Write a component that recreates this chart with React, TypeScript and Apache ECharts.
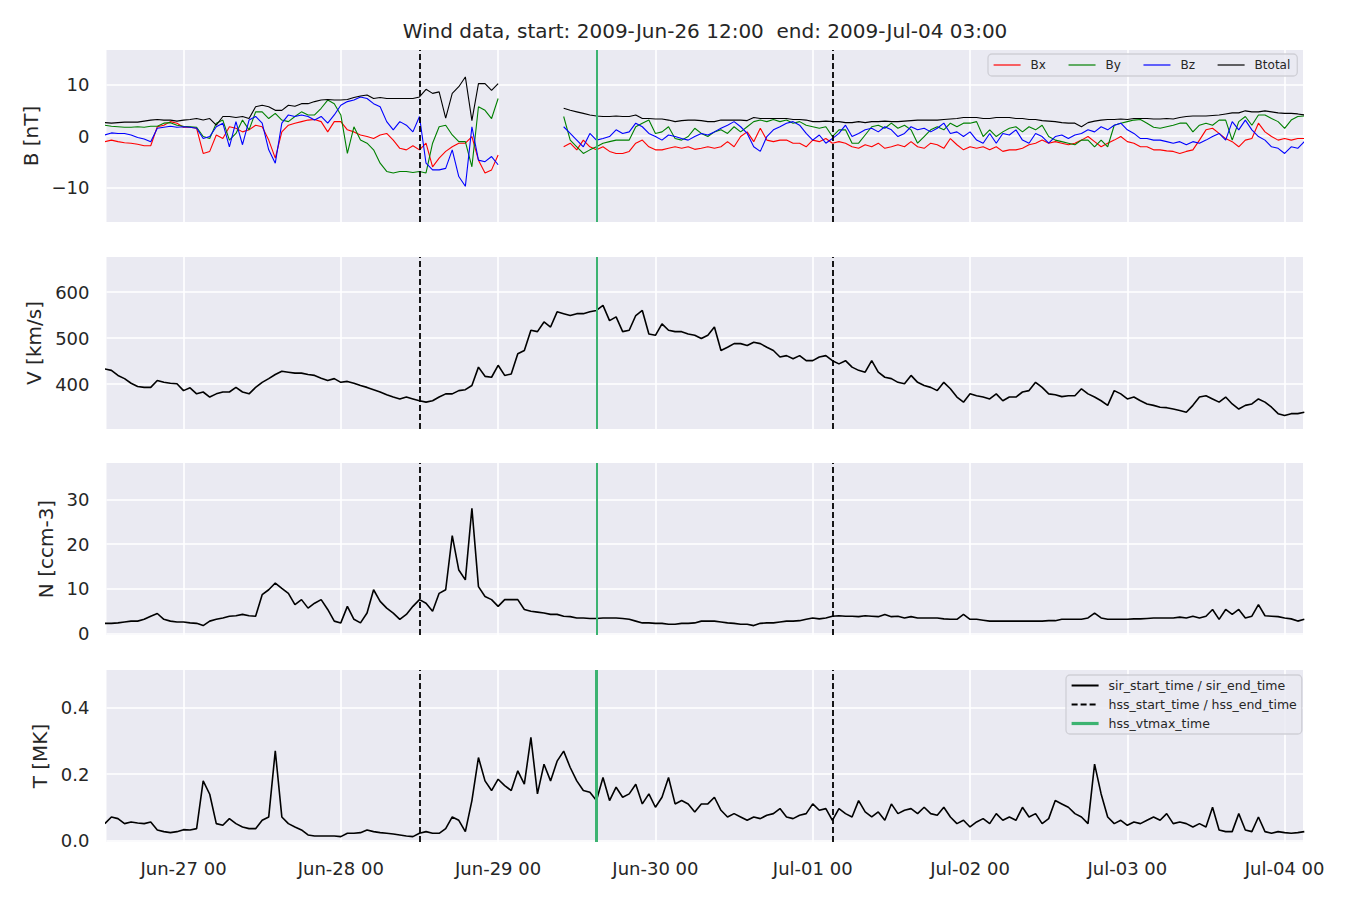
import React, { useEffect, useRef } from "react";
import * as echarts from "echarts";

const TITLE = "Wind data, start: 2009-Jun-26 12:00  end: 2009-Jul-04 03:00";
// every series holds one value per hour, hour 0 = 2009-06-26 12:00
const X_RANGE = [0.25, 182.8];
const DAY_TICKS = [12, 36, 60, 84, 108, 132, 156, 180];
const DAY_LABELS = ["Jun-27 00", "Jun-28 00", "Jun-29 00", "Jun-30 00", "Jul-01 00", "Jul-02 00", "Jul-03 00", "Jul-04 00"];
const HSS_LINES = [48, 111];
const VTMAX_LINES = [75];

const B_TICKS = [-10, 0, 10];
const V_TICKS = [400, 500, 600];
const N_TICKS = [0, 10, 20, 30];
const T_TICKS = [0, 0.2, 0.4];

const BX = [
  -1.1, -0.8, -1.1, -1.3, -1.4, -1.6, -1.9, -1.9, 1.8, 2.1,
  2.8, 2.5, 1.7, 1.7, 1.5, -3.4, -3.0, 0.2, -0.5, 1.8,
  1.5, 0.8, 1.2, 2.1, 1.8, -0.8, -4.3, 0.8, 2.1, 2.5,
  2.8, 3.1, 3.2, 2.8, 0.8, 2.8, 2.8, 1.2, 0.8, 0.2,
  -0.1, -0.5, 0.2, 0.5, -0.8, -2.4, -2.7, -1.9, -2.7, -1.4,
  -6.0, -4.3, -3.0, -2.1, -1.4, -1.4, -0.1, -4.7, -7.2, -6.6,
  -3.7, null, null, null, null, null, null, null, null, null,
  -2.1, -1.4, -2.7, -0.8, -2.1, -2.7, -2.1, -3.0, -3.4, -3.4,
  -3.0, -1.4, -0.8, -2.1, -2.7, -2.7, -2.4, -2.1, -2.4, -2.1,
  -2.6, -2.4, -2.1, -2.4, -2.1, -1.1, -2.1, -0.1, 0.8, -1.1,
  1.5, -0.8, -1.1, -0.8, -0.8, -1.4, -1.4, -2.1, -0.8, -1.1,
  -0.5, -1.4, -1.1, -1.4, -2.1, -2.4, -1.7, -2.1, -1.4, -2.4,
  -2.1, -1.7, -2.1, -1.1, -2.1, -2.4, -1.4, -1.7, -2.4, -0.5,
  -1.7, -2.7, -2.1, -2.4, -2.1, -2.7, -2.1, -3.0, -2.7, -2.7,
  -2.4, -1.7, -1.4, -0.8, -1.4, -1.1, -1.4, -1.7, -1.4, -0.8,
  -0.1, -1.1, -2.1, -1.4, -0.8, -0.1, -1.1, -1.4, -2.1, -2.1,
  -2.7, -2.7, -2.9, -3.0, -3.4, -3.0, -2.7, -0.8, 1.2, 1.5,
  0.5, -0.5, -1.1, -2.1, -0.8, -0.5, 2.5, 0.8, -0.1, -0.8,
  -0.5, -0.8, -0.5, -0.5,
];

const BY = [
  2.1, 1.9, 1.8, 1.7, 1.7, 1.8, 1.7, 1.9, 1.9, 2.5,
  2.6, 2.1, 1.9, 1.8, 1.7, -0.1, -0.5, 2.5, 3.1, -0.8,
  0.5, 3.1, 1.2, 4.7, 4.7, 3.4, 4.4, 3.1, 2.8, 3.8,
  4.7, 4.1, 4.1, 5.4, 7.0, 6.3, 4.1, -3.4, 1.8, -0.8,
  -1.4, -2.7, -5.3, -6.9, -7.2, -6.9, -6.9, -7.1, -6.9, -7.2,
  -1.4, 1.8, 2.1, 0.2, -1.1, -1.1, -6.0, 5.7, 5.0, 3.4,
  7.3, null, null, null, null, null, null, null, null, null,
  3.8, -0.8, -2.1, -3.4, -2.7, -2.1, -1.4, -1.1, -0.8, -0.8,
  -0.8, 1.8, 2.5, 3.1, 0.5, 0.8, 1.8, -0.5, -0.8, -0.1,
  1.5, 0.5, -0.1, 0.8, 1.2, 0.5, 1.8, 0.8, 1.8, 2.8,
  3.1, 2.8, 3.2, 2.8, 3.1, 2.5, 2.8, 2.1, 1.8, 1.5,
  1.8, -0.1, 1.2, 1.2, -1.4, -1.4, 0.2, 1.8, 2.1, 1.5,
  2.5, 1.5, 2.1, 1.2, -1.4, -0.1, 1.2, 1.8, 1.2, 2.5,
  1.8, 2.5, 2.5, 2.8, -0.1, 1.2, -0.1, 0.8, 1.5, 1.8,
  0.8, 1.8, 1.2, 2.1, -0.1, -0.8, -1.1, -1.4, -1.7, -0.8,
  -0.8, -2.1, -0.8, -2.1, 2.1, 2.5, 2.8, 3.1, 3.2, 2.5,
  1.7, 1.5, 1.8, 2.1, 2.5, 2.5, 0.8, 2.1, 2.5, 2.1,
  3.1, 3.1, -0.8, 2.8, 3.8, 2.1, 4.1, 4.1, 3.4, 2.8,
  1.5, 3.1, 3.8, 3.9,
];

const BZ = [
  0.2, 0.6, 0.5, 0.5, 0.2, -0.3, -0.6, -1.1, 1.5, 1.7,
  1.9, 1.7, 1.8, 1.7, 1.5, -0.5, -0.1, 1.8, 2.5, -2.1,
  2.8, -1.7, 3.1, 3.8, 2.5, -2.7, -5.3, 2.5, 4.1, 3.8,
  4.1, 3.8, 3.1, 3.8, 2.5, 4.1, 6.0, 6.7, 7.0, 7.6,
  7.3, 6.3, 5.7, 2.8, 1.2, 2.8, 2.1, 0.8, 3.8, -5.3,
  -6.6, -6.6, -6.3, -2.7, -7.9, -9.8, 1.8, -4.7, -5.0, -4.0,
  -5.6, null, null, null, null, null, null, null, null, null,
  1.8, 0.5, -0.8, -2.1, 0.5, -0.8, -0.5, -0.1, 1.2, 0.5,
  0.8, 2.5, 1.8, 0.5, -0.1, -0.8, 0.2, -0.1, -0.5, -0.8,
  -0.1, 0.5, 0.2, 0.8, 1.5, 2.1, 2.8, 1.8, 0.5, -2.1,
  -3.0, -0.1, 1.2, 1.8, 2.5, 2.8, 2.1, 0.5, -0.8, 0.2,
  -1.4, -0.5, 0.5, 2.1, -0.1, 0.5, 1.2, 1.5, 0.8, 1.8,
  1.2, -0.1, 0.5, 1.8, 1.2, 1.5, 0.8, 1.5, 2.5, 0.5,
  0.8, -0.1, 0.8, -0.8, -1.4, 0.5, -1.4, 0.5, 0.2, 1.2,
  -0.8, -1.4, 0.5, -0.1, -1.4, -0.1, 0.2, -0.5, 0.2, 0.5,
  1.2, 0.8, 1.8, 1.2, 2.1, 2.5, 1.2, 0.5, -0.5, -0.5,
  -0.8, -0.8, -1.1, -1.4, -1.1, -1.7, -1.1, -1.4, -0.8, -0.1,
  0.5, -0.8, 2.8, 1.2, 3.1, 1.2, -0.1, -0.8, -2.1, -2.4,
  -3.4, -2.1, -2.4, -1.1,
];

const BTOTAL = [
  2.6, 2.5, 2.6, 2.7, 2.7, 2.7, 2.9, 3.1, 3.2, 3.1,
  3.1, 2.9, 3.1, 3.2, 3.4, 3.1, 3.4, 2.1, 3.8, 3.8,
  3.6, 3.8, 3.4, 5.7, 6.0, 5.7, 5.0, 5.0, 6.0, 5.8,
  6.3, 6.3, 6.7, 7.0, 7.1, 7.0, 7.0, 7.1, 7.5, 7.8,
  8.0, 7.3, 7.5, 7.3, 7.3, 7.3, 7.3, 7.3, 7.6, 9.1,
  8.3, 8.6, 3.5, 8.3, 9.6, 11.5, 3.0, 10.2, 10.2, 8.9,
  10.2, null, null, null, null, null, null, null, null, null,
  5.4, 5.0, 4.7, 4.4, 4.1, 3.9, 3.8, 3.8, 3.9, 3.8,
  3.8, 4.1, 3.4, 3.4, 3.3, 3.3, 3.1, 2.8, 3.0, 3.1,
  3.1, 3.0, 2.8, 2.8, 3.1, 3.1, 3.1, 3.1, 3.0, 3.6,
  3.4, 3.4, 3.4, 3.4, 3.4, 3.2, 3.2, 3.1, 2.8, 2.8,
  2.9, 2.8, 2.8, 2.6, 2.6, 2.8, 2.6, 2.8, 2.8, 2.9,
  2.8, 2.8, 2.9, 3.0, 3.1, 3.1, 3.1, 3.1, 3.2, 3.3,
  3.4, 3.6, 3.6, 3.6, 3.4, 3.4, 3.6, 3.6, 3.6, 3.4,
  3.4, 3.2, 3.2, 3.0, 2.9, 2.8, 2.6, 2.5, 2.5, 1.8,
  2.6, 2.9, 3.1, 3.2, 3.2, 3.3, 3.2, 3.4, 3.4, 3.4,
  3.3, 3.3, 3.4, 3.3, 3.6, 3.8, 3.9, 3.9, 3.9, 4.0,
  4.1, 4.3, 4.5, 4.5, 4.9, 4.7, 4.7, 4.9, 4.7, 4.5,
  4.4, 4.4, 4.3, 4.1,
];

const V = [
  433, 430, 419, 412, 402, 395, 393, 393, 408, 404,
  402, 401, 386, 392, 379, 383, 372, 379, 383, 383,
  393, 383, 379, 393, 404, 412, 421, 428, 426, 424,
  424, 421, 419, 413, 408, 412, 404, 406, 402, 397,
  393, 388, 383, 377, 372, 368, 372, 368, 364, 361,
  364, 372, 379, 379, 386, 388, 397, 437, 417, 415,
  441, 419, 422, 466, 473, 517, 514, 535, 524, 557,
  553, 549, 553, 553, 557, 560, 571, 538, 546, 514,
  517, 549, 560, 509, 506, 531, 517, 514, 514, 509,
  506, 499, 506, 524, 473, 480, 488, 488, 484, 491,
  488, 480, 473, 459, 462, 455, 462, 451, 451, 459,
  462, 451, 444, 451, 437, 430, 426, 451, 426, 415,
  412, 404, 401, 419, 404, 397, 393, 386, 404, 390,
  372, 361, 379, 375, 372, 368, 379, 364, 372, 372,
  383, 386, 404, 393, 379, 377, 373, 375, 375, 390,
  379, 372, 364, 354, 386, 379, 368, 372, 364, 357,
  354, 350, 349, 346, 343, 339, 354, 372, 375, 368,
  361, 372, 357, 346, 354, 357, 368, 361, 350, 336,
  332, 336, 336, 339,
];

const N = [
  2.3, 2.3, 2.4, 2.6, 2.8, 2.8, 3.2, 3.9, 4.5, 3.2,
  2.8, 2.6, 2.6, 2.4, 2.3, 1.8, 2.8, 3.2, 3.5, 3.9,
  4.0, 4.3, 4.0, 3.9, 8.7, 9.8, 11.3, 10.1, 9.0, 6.5,
  7.6, 5.7, 6.8, 7.6, 5.4, 2.8, 2.4, 6.1, 3.2, 2.4,
  4.6, 9.8, 7.2, 5.7, 4.6, 3.2, 4.3, 6.1, 7.6, 6.8,
  5.0, 9.0, 9.8, 21.9, 14.2, 12.0, 28.0, 10.5, 8.3, 7.6,
  6.1, 7.6, 7.6, 7.6, 5.4, 5.0, 4.8, 4.6, 4.3, 4.3,
  3.9, 3.8, 3.5, 3.5, 3.4, 3.4, 3.5, 3.5, 3.5, 3.4,
  3.2, 2.8, 2.4, 2.4, 2.3, 2.3, 2.1, 2.1, 2.3, 2.3,
  2.4, 2.8, 2.8, 2.8, 2.6, 2.4, 2.3, 2.1, 2.1, 1.8,
  2.3, 2.4, 2.4, 2.6, 2.8, 2.8, 2.9, 3.2, 3.5, 3.3,
  3.5, 3.9, 4.0, 3.9, 3.9, 3.8, 4.0, 3.9, 3.8, 4.3,
  3.8, 3.9, 3.5, 3.8, 3.5, 3.5, 3.5, 3.5, 3.3, 3.2,
  3.2, 4.3, 3.2, 3.2, 3.0, 2.8, 2.8, 2.8, 2.8, 2.8,
  2.8, 2.8, 2.8, 2.8, 2.9, 2.9, 3.2, 3.2, 3.2, 3.2,
  3.5, 4.6, 3.5, 3.2, 3.2, 3.2, 3.2, 3.3, 3.3, 3.4,
  3.5, 3.5, 3.5, 3.5, 3.7, 3.5, 3.9, 3.5, 3.9, 5.4,
  3.2, 5.4, 4.3, 5.4, 3.5, 3.9, 6.5, 4.0, 3.9, 3.8,
  3.5, 3.3, 2.8, 3.2,
];

const T = [
  0.052, 0.072, 0.067, 0.052, 0.057, 0.054, 0.052, 0.057, 0.033, 0.028,
  0.025, 0.028, 0.034, 0.033, 0.037, 0.180, 0.140, 0.052, 0.047, 0.067,
  0.052, 0.042, 0.037, 0.037, 0.062, 0.072, 0.270, 0.072, 0.052, 0.042,
  0.033, 0.018, 0.015, 0.015, 0.015, 0.015, 0.013, 0.023, 0.023, 0.025,
  0.033, 0.028, 0.025, 0.023, 0.021, 0.018, 0.015, 0.013, 0.023, 0.028,
  0.023, 0.023, 0.037, 0.072, 0.062, 0.028, 0.121, 0.250, 0.180, 0.151,
  0.185, 0.166, 0.151, 0.210, 0.170, 0.310, 0.141, 0.230, 0.180, 0.239,
  0.269, 0.220, 0.180, 0.151, 0.146, 0.121, 0.190, 0.121, 0.161, 0.131,
  0.141, 0.170, 0.111, 0.141, 0.101, 0.131, 0.190, 0.111, 0.121, 0.111,
  0.087, 0.111, 0.111, 0.131, 0.092, 0.072, 0.082, 0.072, 0.062, 0.072,
  0.067, 0.077, 0.082, 0.097, 0.072, 0.067, 0.077, 0.082, 0.111, 0.092,
  0.097, 0.062, 0.097, 0.082, 0.072, 0.121, 0.087, 0.072, 0.087, 0.062,
  0.111, 0.082, 0.092, 0.097, 0.082, 0.101, 0.082, 0.077, 0.101, 0.072,
  0.052, 0.062, 0.042, 0.057, 0.067, 0.052, 0.082, 0.062, 0.072, 0.062,
  0.101, 0.072, 0.082, 0.052, 0.067, 0.121, 0.111, 0.101, 0.082, 0.072,
  0.052, 0.230, 0.141, 0.072, 0.052, 0.062, 0.047, 0.057, 0.052, 0.062,
  0.072, 0.062, 0.082, 0.052, 0.057, 0.052, 0.042, 0.052, 0.042, 0.101,
  0.033, 0.028, 0.028, 0.082, 0.033, 0.028, 0.072, 0.028, 0.023, 0.028,
  0.025, 0.023, 0.025, 0.028,
];

const FONT = "DejaVu Sans";
const TXT = "#262626";
const BG = "#EAEAF2";
const GREEN = "#3CB371";

const GRID_TOPS = [50, 257, 463, 670];
const GRID_H = 172;

const toPairs = (arr: (number | null)[]) => arr.map((v, i) => [i, v]);

export default function App() {
  const ref = useRef<HTMLDivElement>(null);

  useEffect(() => {
    if (!ref.current) return;
    const chart = echarts.init(ref.current, undefined, { renderer: "svg" });

    const vlines = (greenWidth: number) => ({
      silent: true,
      symbol: ["none", "none"],
      label: { show: false },
      animation: false,
      data: [
        ...HSS_LINES.map((h) => ({ xAxis: h, lineStyle: { color: "#000", width: 1.8, type: [6, 3] } })),
        ...VTMAX_LINES.map((h) => ({ xAxis: h, lineStyle: { color: GREEN, width: greenWidth, type: "solid" } })),
      ],
    });

    const xAxes = GRID_TOPS.map((_, i) => ({
      type: "value",
      gridIndex: i,
      min: X_RANGE[0],
      max: X_RANGE[1],
      axisLine: { show: false },
      axisTick: { show: false, customValues: DAY_TICKS },
      splitLine: { show: true, lineStyle: { color: "#ffffff", width: 1.6 } },
      axisLabel: {
        show: i === 3,
        customValues: DAY_TICKS,
        margin: 17,
        fontSize: 18,
        fontFamily: FONT,
        color: TXT,
        formatter: (v: number) => {
          const k = DAY_TICKS.indexOf(Math.round(v));
          return k >= 0 ? DAY_LABELS[k] : "";
        },
      },
    }));

    const yDefs = [
      { min: -16.75, max: 16.75, ticks: B_TICKS, name: "B [nT]", gap: 65, fmt: (v: number) => String(v).replace("-", "\u2212") },
      { min: 302.7, max: 676, ticks: V_TICKS, name: "V [km/s]", gap: 62, fmt: (v: number) => String(v) },
      { min: -0.3, max: 38.1, ticks: N_TICKS, name: "N [ccm-3]", gap: 51, fmt: (v: number) => String(v) },
      { min: -0.003, max: 0.512, ticks: T_TICKS, name: "T [MK]", gap: 56, fmt: (v: number) => v.toFixed(1) },
    ];

    const yAxes = yDefs.map((d, i) => ({
      type: "value",
      gridIndex: i,
      min: d.min,
      max: d.max,
      name: d.name,
      nameLocation: "middle",
      nameGap: d.gap,
      nameTextStyle: { fontSize: 20, fontFamily: FONT, color: TXT },
      axisLine: { show: false },
      axisTick: { show: false, customValues: d.ticks },
      splitLine: { show: true, lineStyle: { color: "#ffffff", width: 1.6 } },
      axisLabel: {
        customValues: d.ticks,
        margin: 17,
        fontSize: 18,
        fontFamily: FONT,
        color: TXT,
        formatter: d.fmt,
      },
    }));

    const lineSeries = (name: string, data: (number | null)[], gi: number, color: string, width: number, extra: any = {}) => ({
      type: "line",
      name,
      xAxisIndex: gi,
      yAxisIndex: gi,
      data: toPairs(data),
      showSymbol: false,
      symbol: "none",
      connectNulls: false,
      silent: true,
      color,
      lineStyle: { color, width },
      ...extra,
    });

    const legendBase = {
      itemWidth: 27,
      itemHeight: 14,
      backgroundColor: "rgba(234,234,242,0.85)",
      borderColor: "#cfcfd6",
      borderWidth: 1.3,
      borderRadius: 4,
      selectedMode: false,
      itemStyle: { opacity: 0, borderWidth: 0 },
    };

    const option: any = {
      animation: false,
      backgroundColor: "#ffffff",
      textStyle: { fontFamily: FONT },
      grid: GRID_TOPS.map((t) => ({ left: 106.5, right: 47, top: t, height: GRID_H, show: true, backgroundColor: BG, borderWidth: 0 })),
      xAxis: xAxes,
      yAxis: yAxes,
      legend: [
        {
          ...legendBase,
          data: ["Bx", "By", "Bz", "Btotal"],
          orient: "horizontal",
          left: 988,
          top: 54,
          itemGap: 22,
          padding: [5, 7, 5, 5],
          lineStyle: { width: 1.2 },
          textStyle: { fontSize: 12, fontFamily: FONT, color: TXT, padding: [0, 0, 0, 5] },
        },
        {
          ...legendBase,
          data: [
            { name: "sir_start_time / sir_end_time", lineStyle: { width: 2 } },
            { name: "hss_start_time / hss_end_time", lineStyle: { width: 2, type: [6, 3] } },
            { name: "hss_vtmax_time", lineStyle: { width: 3.2 } },
          ],
          orient: "vertical",
          left: 1066,
          top: 675,
          itemGap: 6,
          padding: [4, 5, 4, 4],
          textStyle: { fontSize: 12.5, fontFamily: FONT, color: TXT, padding: [0, 0, 0, 5] },
        },
      ],
      graphic: [
        {
          type: "text",
          x: 705,
          y: 31,
          style: { text: TITLE, fontSize: 20, fontFamily: FONT, fill: TXT, textAlign: "center", textVerticalAlign: "middle" },
          silent: true,
        },
      ],
      series: [
        lineSeries("Bx", BX, 0, "#ff0000", 1.1),
        lineSeries("By", BY, 0, "#008000", 1.1),
        lineSeries("Bz", BZ, 0, "#0000ff", 1.1),
        lineSeries("Btotal", BTOTAL, 0, "#000000", 1.1, { markLine: vlines(2) }),
        lineSeries("V", V, 1, "#000000", 1.6, { markLine: vlines(2) }),
        lineSeries("N", N, 2, "#000000", 1.6, { markLine: vlines(2) }),
        lineSeries("T", T, 3, "#000000", 1.6, { markLine: vlines(3) }),
        lineSeries("sir_start_time / sir_end_time", [], 3, "#000000", 2),
        lineSeries("hss_start_time / hss_end_time", [], 3, "#000000", 2, { lineStyle: { color: "#000000", width: 2, type: [6, 3] } }),
        lineSeries("hss_vtmax_time", [], 3, GREEN, 3.2),
      ],
    };

    chart.setOption(option);
    return () => chart.dispose();
  }, []);

  return <div ref={ref} style={{ position: "fixed", left: 0, top: 0, width: 1350, height: 900 }} />;
}
